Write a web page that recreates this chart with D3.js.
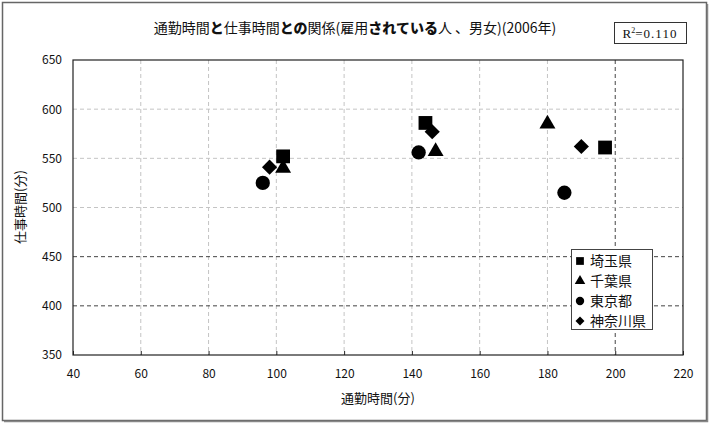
<!DOCTYPE html>
<html>
<head>
<meta charset="utf-8">
<script src="https://cdn.jsdelivr.net/npm/d3@7"></script>
<style>
  body { margin: 0; background: #fff; }
  svg text { font-family: "Noto Sans CJK JP", "Noto Sans", sans-serif; }
</style>
</head>
<body>
<svg id="chart" width="716" height="427"></svg>
<script>
// data
const prefectures = ["埼玉県", "千葉県", "東京都", "神奈川県"];
const commute = [
  [102, 144, 197],   // 埼玉県
  [102, 147, 180],   // 千葉県
  [96, 142, 185],    // 東京都
  [98, 146, 190]     // 神奈川県
];
const work = [
  [552, 586, 561],
  [540, 557, 585],
  [525, 556, 515],
  [541, 577, 562]
];
const xTicks = [40, 60, 80, 100, 120, 140, 160, 180, 200, 220];
const yTicks = [350, 400, 450, 500, 550, 600, 650];
const rSquared = "0.110";

const margin = { top: 60, right: 33, bottom: 72, left: 73 };
const W = 716, H = 427;
const width = W - margin.left - margin.right;
const height = H - margin.top - margin.bottom;

const svg = d3.select("#chart");

// outer frame
svg.append("rect")
  .attr("x", 2.5).attr("y", 2.5)
  .attr("width", 704).attr("height", 418)
  .attr("fill", "#fff").attr("stroke", "#666").attr("stroke-width", 1.5);
svg.append("path")
  .attr("d", "M4,421.5H707.5V4")
  .attr("fill", "none").attr("stroke", "#888").attr("stroke-width", 1.5);

const g = svg.append("g")
  .attr("transform", "translate(" + margin.left + "," + margin.top + ")");

const x = d3.scaleLinear().domain([40, 220]).range([0, width]);
const y = d3.scaleLinear().domain([350, 650]).range([height, 0]);

// grid
g.selectAll(".vgrid")
  .data(xTicks.slice(1, -1))
  .enter().append("line")
  .attr("x1", (d) => x(d)).attr("x2", (d) => x(d))
  .attr("y1", 0).attr("y2", height)
  .attr("stroke", (d) => d === 200 ? "#444" : "#c4c4c4")
  .attr("stroke-dasharray", "4,3");

g.selectAll(".hgrid")
  .data(yTicks.slice(1, -1))
  .enter().append("line")
  .attr("x1", 0).attr("x2", width)
  .attr("y1", (d) => y(d)).attr("y2", (d) => y(d))
  .attr("stroke", (d) => d <= 450 ? "#444" : "#c4c4c4")
  .attr("stroke-dasharray", "4,3");

// plot frame
g.append("rect")
  .attr("width", width).attr("height", height)
  .attr("fill", "none").attr("stroke", "#222").attr("stroke-width", 1.2);

// axes
const xAxis = g.append("g")
  .attr("transform", "translate(0," + height + ")")
  .call(d3.axisBottom(x).tickValues(xTicks).tickSizeInner(-4).tickSizeOuter(0).tickPadding(14));
xAxis.select(".domain").remove();
xAxis.selectAll("line").attr("stroke", "#222");
xAxis.selectAll("text").attr("font-size", 12).attr("fill", "#111");

const yAxis = g.append("g")
  .call(d3.axisLeft(y).tickValues(yTicks).tickSizeInner(0).tickSizeOuter(0).tickPadding(11));
yAxis.select(".domain").remove();
yAxis.selectAll("text").attr("font-size", 12).attr("fill", "#111");

// axis titles
svg.append("text")
  .attr("x", 378).attr("y", 403)
  .attr("text-anchor", "middle").attr("font-size", 13).attr("fill", "#111")
  .text("通勤時間(分)");
svg.append("text")
  .attr("transform", "translate(25,207) rotate(-90)")
  .attr("text-anchor", "middle").attr("font-size", 13).attr("fill", "#111")
  .text("仕事時間(分)");

// title
const titleParts = [
  ["通勤時間", false], ["と", true], ["仕事時間", false], ["との", true],
  ["関係(雇用", false], ["されている", true], ["人 、男女)(2006年)", false]
];
const title = svg.append("text")
  .attr("x", 355).attr("y", 33)
  .attr("text-anchor", "middle").attr("font-size", 14).attr("fill", "#111");
titleParts.forEach((p) => {
  title.append("tspan")
    .attr("font-weight", p[1] ? "900" : "normal")
    .text(p[0]);
});

// R² box
svg.append("rect")
  .attr("x", 614.5).attr("y", 22.5).attr("width", 72).attr("height", 21)
  .attr("fill", "#fff").attr("stroke", "#333");
const rt = svg.append("text")
  .attr("x", 650).attr("y", 38)
  .attr("text-anchor", "middle").attr("font-size", 13).attr("fill", "#111")
  .style("font-family", "'Liberation Serif', serif");
rt.append("tspan").text("R");
rt.append("tspan").attr("font-size", 8).attr("dy", -5).text("2");
rt.append("tspan").attr("dy", 5).attr("letter-spacing", 1).text("=" + rSquared);

// markers
const shapes = [
  { type: d3.symbolSquare, size: 190, rot: 0, lsize: 60 },
  { type: d3.symbolTriangle, size: 110, rot: 0, lsize: 48 },
  { type: d3.symbolCircle, size: 160, rot: 0, lsize: 55 },
  { type: d3.symbolSquare, size: 115, rot: 45, lsize: 40 }
];

prefectures.forEach((name, i) => {
  const pts = commute[i].map((c, j) => ({ c: c, w: work[i][j] }));
  g.selectAll(".pt" + i)
    .data(pts)
    .enter().append("path")
    .attr("d", d3.symbol().type(shapes[i].type).size(shapes[i].size))
    .attr("transform", (d) => "translate(" + x(d.c) + "," + y(d.w) + ") rotate(" + shapes[i].rot + ")")
    .attr("fill", "#000");
});

// legend
const legend = svg.append("g").attr("transform", "translate(571,249)");
legend.append("rect")
  .attr("x", 0.5).attr("y", 0.5).attr("width", 81).attr("height", 80)
  .attr("fill", "#fff").attr("stroke", "#444");
const item = legend.selectAll(".item")
  .data(prefectures)
  .enter().append("g")
  .attr("transform", (d, i) => "translate(0," + (12 + i * 20) + ")");
item.append("path")
  .attr("d", (d, i) => d3.symbol().type(shapes[i].type).size(shapes[i].lsize)())
  .attr("transform", (d, i) => "translate(9,0) rotate(" + shapes[i].rot + ")")
  .attr("fill", "#000");
item.append("text")
  .attr("x", 19).attr("y", 5)
  .attr("font-size", 14).attr("fill", "#111")
  .text((d) => d);
</script>
</body>
</html>
